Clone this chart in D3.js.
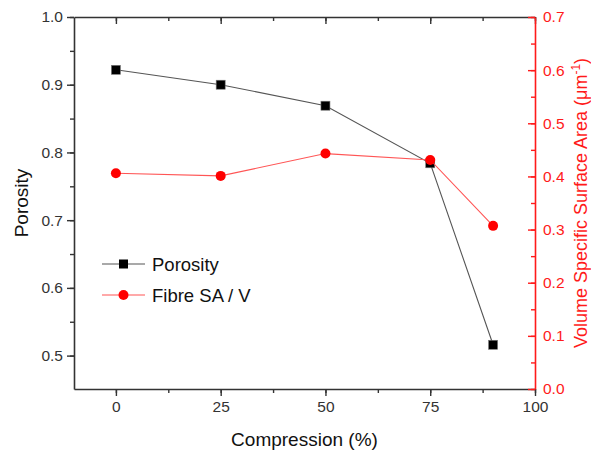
<!DOCTYPE html>
<html>
<head>
<meta charset="utf-8">
<script src="https://cdn.jsdelivr.net/npm/d3@7"></script>
<style>
    body { margin: 0; background: #fff; }
    svg text { font-family: "Liberation Sans", Arial, sans-serif; }
</style>
</head>
<body>
<div id="chart"></div>
<script>
var compression = [0, 25, 50, 75, 90];
var porosity = [0.922, 0.900, 0.869, 0.784, 0.516];
var fibreSAV = [0.406, 0.401, 0.443, 0.431, 0.307];
var xTicks = [0, 25, 50, 75, 100];
var yLeftTicks = [0.5, 0.6, 0.7, 0.8, 0.9, 1.0];
var yRightTicks = [0.0, 0.1, 0.2, 0.3, 0.4, 0.5, 0.6, 0.7];

var margin = {top: 17, right: 56, bottom: 62, left: 74},
    width = 591 - margin.left - margin.right,
    height = 451 - margin.top - margin.bottom;

var axisColor = "#333",
    red = "#ff1a1a";

var svg = d3.select("#chart").append("svg")
    .attr("width", 591)
    .attr("height", 451)
    .append("g")
    .attr("transform", "translate(" + margin.left + "," + margin.top + ")");

var x = d3.scaleLinear().domain([-10, 100]).range([0, width]);
var yL = d3.scaleLinear().domain([0.4507, 1.0]).range([height, 0]);
var yR = d3.scaleLinear().domain([0, 0.7]).range([height, 0]);

function minor(step, lo, hi) {
    var out = [];
    for (var v = Math.ceil(lo / step) * step; v <= hi + 1e-9; v += step) out.push(+v.toFixed(4));
    return out;
}

function styleAxis(g, color) {
    g.select(".domain").attr("stroke", color).attr("stroke-width", 1.6);
    g.selectAll(".tick line").attr("stroke", color).attr("stroke-width", 1.4);
    g.selectAll(".tick text").attr("fill", color).style("font-size", "15.5px");
}

// bottom axis
svg.append("g")
    .attr("transform", "translate(0," + height + ")")
    .call(d3.axisBottom(x).tickValues(minor(12.5, -10, 100)).tickSize(4).tickFormat(""))
    .call(function(g) { styleAxis(g, axisColor); g.select(".domain").remove(); });
svg.append("g")
    .attr("class", "x d3-axis")
    .attr("transform", "translate(0," + height + ")")
    .call(d3.axisBottom(x).tickValues(xTicks).tickSize(7).tickSizeOuter(0).tickPadding(5))
    .call(function(g) { styleAxis(g, axisColor); });

// top axis (inward ticks)
svg.append("g")
    .call(d3.axisBottom(x).tickValues(minor(12.5, -10, 100)).tickSize(4).tickFormat(""))
    .call(function(g) { styleAxis(g, axisColor); g.select(".domain").remove(); });
svg.append("g")
    .call(d3.axisBottom(x).tickValues(xTicks).tickSize(7).tickSizeOuter(0).tickFormat(""))
    .call(function(g) { styleAxis(g, axisColor); });

// left axis
svg.append("g")
    .call(d3.axisLeft(yL).tickValues(minor(0.05, 0.4507, 1.0)).tickSize(4).tickFormat(""))
    .call(function(g) { styleAxis(g, axisColor); g.select(".domain").remove(); });
svg.append("g")
    .attr("class", "y d3-axis")
    .call(d3.axisLeft(yL).tickValues(yLeftTicks).tickSize(7).tickSizeOuter(0).tickPadding(4).tickFormat(d3.format(".1f")))
    .call(function(g) { styleAxis(g, axisColor); });

// right axis (red, inward ticks)
svg.append("g")
    .attr("transform", "translate(" + width + ",0)")
    .call(d3.axisLeft(yR).tickValues(minor(0.05, 0, 0.7)).tickSize(4).tickFormat(""))
    .call(function(g) { styleAxis(g, red); g.select(".domain").remove(); });
svg.append("g")
    .attr("transform", "translate(" + width + ",0)")
    .call(d3.axisLeft(yR).tickValues(yRightTicks).tickSize(7).tickSizeOuter(0).tickFormat(""))
    .call(function(g) { styleAxis(g, red); });
svg.append("g")
    .attr("transform", "translate(" + width + ",0)")
    .call(d3.axisRight(yR).tickValues(yRightTicks).tickSize(0).tickPadding(8).tickFormat(d3.format(".1f")))
    .call(function(g) { styleAxis(g, red); g.select(".domain").remove(); });

// axis titles
svg.append("text")
    .attr("x", width / 2)
    .attr("y", height + 57)
    .attr("text-anchor", "middle")
    .style("font-size", "19px")
    .attr("fill", "#111")
    .text("Compression (%)");

svg.append("text")
    .attr("transform", "translate(" + (-46) + "," + (height / 2) + ") rotate(-90)")
    .attr("text-anchor", "middle")
    .style("font-size", "19px")
    .attr("fill", "#111")
    .text("Porosity");

var rt = svg.append("text")
    .attr("transform", "translate(" + (width + 52) + "," + (height / 2) + ") rotate(-90)")
    .attr("text-anchor", "middle")
    .style("font-size", "18px")
    .attr("fill", red);
rt.append("tspan").text("Volume Specific Surface Area (\u03bcm");
rt.append("tspan").attr("dy", -7).style("font-size", "12px").text("-1");
rt.append("tspan").attr("dy", 7).text(")");

// series
var porData = compression.map(function(c, i) { return {x: c, y: porosity[i]}; });
var savData = compression.map(function(c, i) { return {x: c, y: fibreSAV[i]}; });

svg.append("path")
    .attr("d", d3.line().x(function(d) { return x(d.x); }).y(function(d) { return yL(d.y); })(porData))
    .attr("fill", "none")
    .attr("stroke", "#555")
    .attr("stroke-width", 1.1);

svg.selectAll(".sq")
    .data(porData)
    .enter().append("rect")
    .attr("x", function(d) { return x(d.x) - 4.5; })
    .attr("y", function(d) { return yL(d.y) - 4.5; })
    .attr("width", 9)
    .attr("height", 9)
    .attr("fill", "#000")
    .attr("stroke", "#777")
    .attr("stroke-width", 0.6);

svg.append("path")
    .attr("d", d3.line().x(function(d) { return x(d.x); }).y(function(d) { return yR(d.y); })(savData))
    .attr("fill", "none")
    .attr("stroke", "#ff5555")
    .attr("stroke-width", 1.1);

svg.selectAll(".ci")
    .data(savData)
    .enter().append("circle")
    .attr("cx", function(d) { return x(d.x); })
    .attr("cy", function(d) { return yR(d.y); })
    .attr("r", 5)
    .attr("fill", "#ff0000");

// legend
var legend = svg.append("g").attr("transform", "translate(28,247)");
legend.append("line").attr("x1", 0).attr("x2", 43).attr("y1", 0).attr("y2", 0)
    .attr("stroke", "#555").attr("stroke-width", 1.1);
legend.append("rect").attr("x", 17).attr("y", -4.5).attr("width", 9).attr("height", 9).attr("fill", "#000");
legend.append("text").attr("x", 50).attr("y", 6.5).style("font-size", "18.5px").attr("fill", "#111").text("Porosity");
legend.append("line").attr("x1", 0).attr("x2", 43).attr("y1", 31).attr("y2", 31)
    .attr("stroke", "#ff5555").attr("stroke-width", 1.1);
legend.append("circle").attr("cx", 21.5).attr("cy", 31).attr("r", 5).attr("fill", "#ff0000");
legend.append("text").attr("x", 50).attr("y", 37.5).style("font-size", "18.5px").attr("fill", "#111").text("Fibre SA / V");
</script>
</body>
</html>
